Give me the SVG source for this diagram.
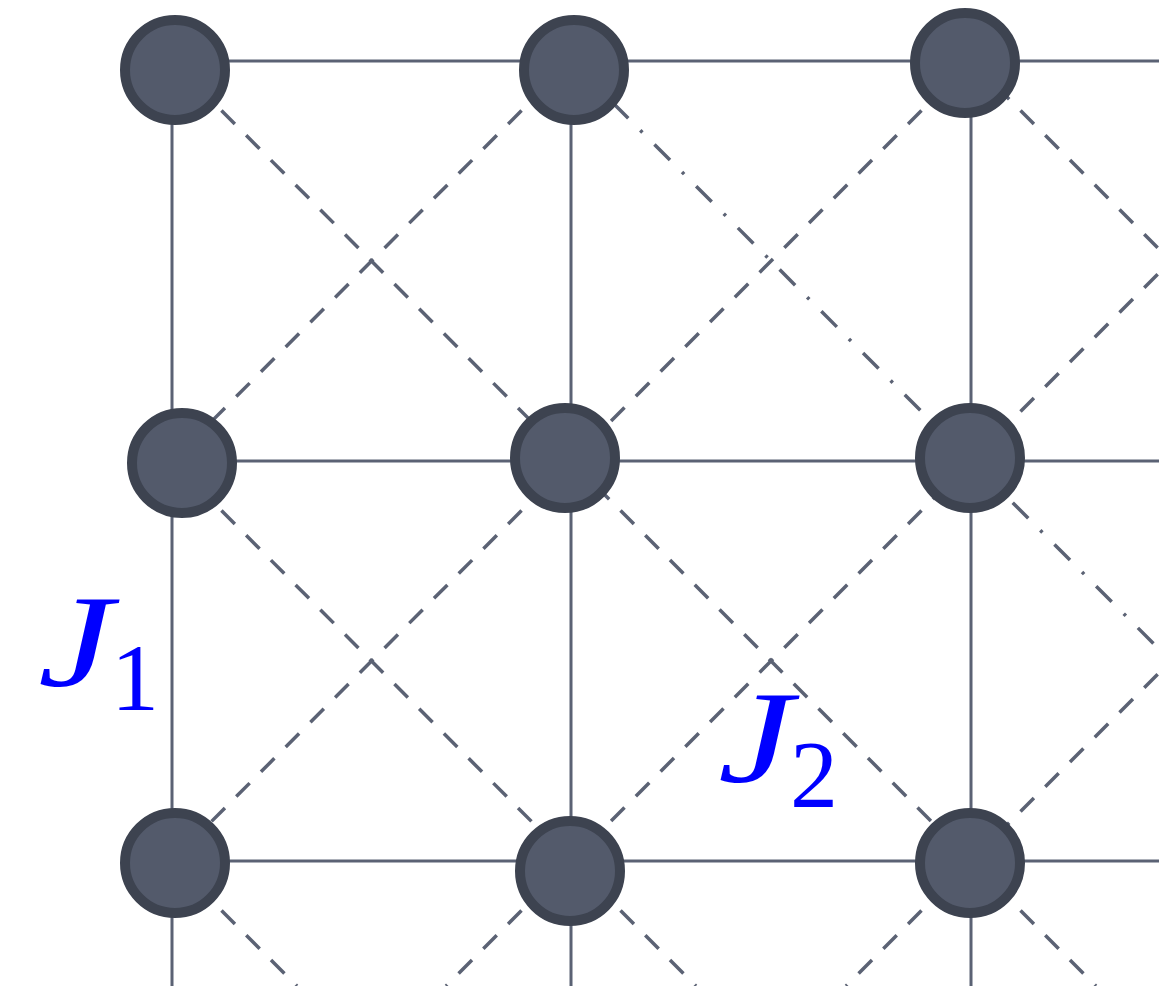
<svg xmlns="http://www.w3.org/2000/svg" width="1159" height="986" viewBox="0 0 1159 986">
<style>
.grid{stroke:#5b6274;stroke-width:3;fill:none}
.dash{stroke:#5b6274;stroke-width:3.5;fill:none;stroke-dasharray:19 16}
.dd{stroke:#5b6274;stroke-width:3.5;fill:none;stroke-dasharray:22 17 3 17}
.node{fill:#535a6b;stroke:#3d4350;stroke-width:10}
.lab{font-family:"Liberation Serif","DejaVu Serif",serif;fill:#0000ff}
</style>
<rect width="1159" height="986" fill="#ffffff"/>
<g id="connectors">
<line class="grid" x1="172" y1="61" x2="1159" y2="61"/>
<line class="grid" x1="172" y1="461" x2="1159" y2="461"/>
<line class="grid" x1="172" y1="861" x2="1159" y2="861"/>
<line class="grid" x1="172" y1="61" x2="172" y2="986"/>
<line class="grid" x1="571" y1="61" x2="571" y2="986"/>
<line class="grid" x1="971" y1="61" x2="971" y2="986"/>
<line class="dash" x1="172" y1="61" x2="571" y2="461"/>
<line class="dash" x1="571" y1="61" x2="172" y2="461"/>
<line class="dd" x1="571" y1="61" x2="971" y2="461"/>
<line class="dash" x1="971" y1="61" x2="571" y2="461"/>
<line class="dash" x1="971" y1="61" x2="1159" y2="249"/>
<line class="dash" x1="971" y1="461" x2="1159" y2="273"/>
<line class="dash" x1="172" y1="461" x2="571" y2="861"/>
<line class="dash" x1="571" y1="461" x2="172" y2="861"/>
<line class="dash" x1="571" y1="461" x2="971" y2="861"/>
<line class="dash" x1="971" y1="461" x2="571" y2="861"/>
<line class="dd" x1="971" y1="461" x2="1159" y2="649"/>
<line class="dash" x1="971" y1="861" x2="1159" y2="673"/>
<line class="dash" x1="172" y1="861" x2="297" y2="986"/>
<line class="dash" x1="571" y1="861" x2="446" y2="986"/>
<line class="dash" x1="571" y1="861" x2="696" y2="986"/>
<line class="dash" x1="971" y1="861" x2="846" y2="986"/>
<line class="dash" x1="971" y1="861" x2="1096" y2="986"/>
</g>
<g id="n00"><circle class="node" cx="175" cy="70" r="50"/></g>
<g id="n10"><circle class="node" cx="574" cy="70" r="50"/></g>
<g id="n20"><circle class="node" cx="965" cy="63" r="50"/></g>
<g id="n01"><circle class="node" cx="182" cy="463" r="50"/></g>
<g id="n11"><circle class="node" cx="565" cy="458" r="50"/></g>
<g id="n21"><circle class="node" cx="970" cy="458" r="50"/></g>
<g id="n02"><circle class="node" cx="175" cy="863" r="50"/></g>
<g id="n12"><circle class="node" cx="570" cy="871" r="50"/></g>
<g id="n22"><circle class="node" cx="970" cy="863" r="50"/></g>
<g id="label-J1">
<text class="lab" transform="translate(38,686) scale(1.28,1)" font-size="132" font-style="italic">J</text>
<text class="lab" x="111" y="710" font-size="96">1</text>
</g>
<g id="label-J2">
<text class="lab" transform="translate(718,782) scale(1.28,1)" font-size="132" font-style="italic">J</text>
<text class="lab" x="790" y="807" font-size="96">2</text>
</g>
</svg>
